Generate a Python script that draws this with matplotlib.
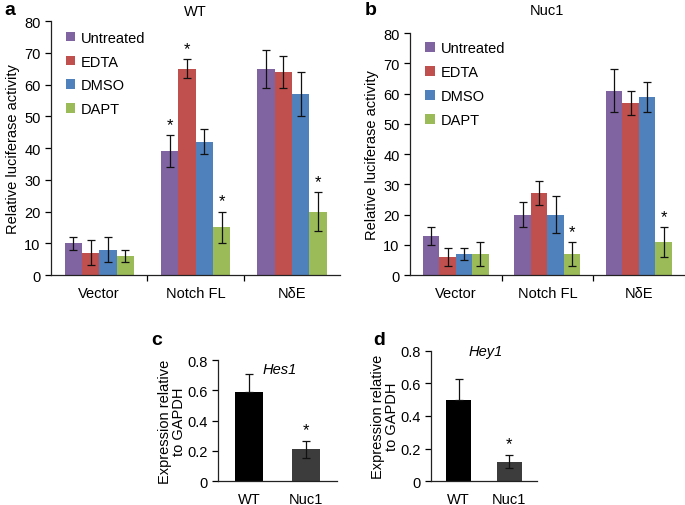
import numpy as np
import matplotlib.pyplot as plt

plt.rcParams['font.family'] = ['Liberation Sans', 'DejaVu Sans']
plt.rcParams['font.size'] = 10

groups = ['Vector', 'Notch FL', 'N\u03b4E']
treatments = ['Untreated', 'EDTA', 'DMSO', 'DAPT']
colors = ['#8064A2', '#C0504D', '#4F81BD', '#9BBB59']

# panel a (WT), rows = treatments, cols = groups
wt_vals = [[10, 39, 65], [7, 65, 64], [8, 42, 57], [6, 15, 20]]
wt_errs = [[2, 5, 6], [4, 3, 5], [4, 4, 7], [2, 5, 6]]
wt_star = [[False, True, False], [False, True, False],
           [False, False, False], [False, True, True]]

# panel b (Nuc1)
nuc_vals = [[13, 20, 61], [6, 27, 57], [7, 20, 59], [7, 7, 11]]
nuc_errs = [[3, 4, 7], [3, 4, 4], [2, 6, 5], [4, 4, 5]]
nuc_star = [[False, False, False], [False, False, False],
            [False, False, False], [False, True, True]]

# panels c, d
cells = ['WT', 'Nuc1']
hes1_vals = [0.59, 0.21]
hes1_errs = [0.115, 0.055]
hey1_vals = [0.50, 0.12]
hey1_errs = [0.13, 0.04]
small_colors = ['#000000', '#3c3c3c']


def style_axes(ax):
    for s in ['top', 'right']:
        ax.spines[s].set_visible(False)
    for s in ['left', 'bottom']:
        ax.spines[s].set_color('#222222')
        ax.spines[s].set_linewidth(0.9)
    ax.tick_params(axis='y', direction='out', length=4, width=0.9, labelsize=10.5)


def grouped(ax, vals, errs, stars, title, title_pad, legend_anchor):
    width = 0.18
    x = np.arange(len(groups))
    for i, t in enumerate(treatments):
        pos = x + (i - 1.5) * width
        ax.bar(pos, vals[i], width, color=colors[i], label=t)
        ax.errorbar(pos, vals[i], yerr=errs[i], fmt='none', ecolor='#111111',
                    elinewidth=0.9, capsize=3, capthick=0.9)
        for j in range(len(groups)):
            if stars[i][j]:
                ax.text(pos[j], vals[i][j] + errs[i][j] + 1.0, '*',
                        ha='center', va='bottom', fontsize=12)
    ax.set_xlim(-0.5, 2.5)
    ax.set_ylim(0, 80)
    ax.set_yticks(range(0, 81, 10))
    ax.set_xticks(x)
    ax.set_xticklabels(groups)
    ax.set_xticks([0.5, 1.5], minor=True)
    ax.tick_params(axis='x', which='major', length=0, pad=8, labelsize=10.5)
    ax.tick_params(axis='x', which='minor', length=4, width=0.9, direction='out')
    ax.set_ylabel('Relative luciferase activity', fontsize=10.5, labelpad=3)
    ax.set_title(title, fontsize=10.5, pad=title_pad)
    style_axes(ax)
    ax.legend(loc='upper left', bbox_to_anchor=legend_anchor, frameon=False,
              handlelength=0.65, handleheight=0.65, handletextpad=0.4,
              labelspacing=0.68, fontsize=10.5, borderaxespad=0)


def small(ax, vals, errs, title, title_y):
    x = np.arange(len(cells))
    ax.bar(x, vals, 0.5, color=small_colors)
    ax.errorbar(x[:1], vals[:1], yerr=[[0], errs[:1]], fmt='none', ecolor='#111111',
                elinewidth=0.9, capsize=3, capthick=0.9)
    ax.errorbar(x[1:], vals[1:], yerr=errs[1:], fmt='none', ecolor='#111111',
                elinewidth=0.9, capsize=3, capthick=0.9)
    ax.text(x[1], vals[1] + errs[1] + 0.025, '*', ha='center', va='bottom', fontsize=12)
    ax.set_xlim(-0.55, 1.55)
    ax.set_ylim(0, 0.8)
    ax.set_yticks([0, 0.2, 0.4, 0.6, 0.8])
    ax.set_yticklabels(['0', '0.2', '0.4', '0.6', '0.8'])
    ax.set_xticks(x)
    ax.set_xticklabels(cells)
    ax.tick_params(axis='x', length=0, pad=8, labelsize=10.5)
    ax.set_ylabel('Expression relative\nto GAPDH', fontsize=10.5, labelpad=1,
                  linespacing=0.95)
    ax.text(0.52, title_y, title, transform=ax.transAxes, fontsize=10.5,
            style='italic', ha='center', va='center')
    style_axes(ax)


fig = plt.figure(figsize=(6.85, 5.06), dpi=100)

ax_a = fig.add_axes([0.0745, 0.4545, 0.422, 0.502])
grouped(ax_a, wt_vals, wt_errs, wt_star, 'WT', 4, (0.03, 0.985))

ax_b = fig.add_axes([0.5985, 0.4545, 0.401, 0.478])
grouped(ax_b, nuc_vals, nuc_errs, nuc_star, 'Nuc1', 14, (0.035, 0.99))

ax_c = fig.add_axes([0.318, 0.0474, 0.174, 0.239])
small(ax_c, hes1_vals, hes1_errs, 'Hes1', 0.925)

ax_d = fig.add_axes([0.629, 0.0474, 0.155, 0.257])
small(ax_d, hey1_vals, hey1_errs, 'Hey1', 1.0)

fig.text(0.007, 0.997, 'a', fontsize=14, fontweight='bold', va='top')
fig.text(0.532, 0.997, 'b', fontsize=14, fontweight='bold', va='top')
fig.text(0.221, 0.343, 'c', fontsize=14, fontweight='bold', va='top')
fig.text(0.545, 0.343, 'd', fontsize=14, fontweight='bold', va='top')

fig.savefig('out.png', dpi=100)
